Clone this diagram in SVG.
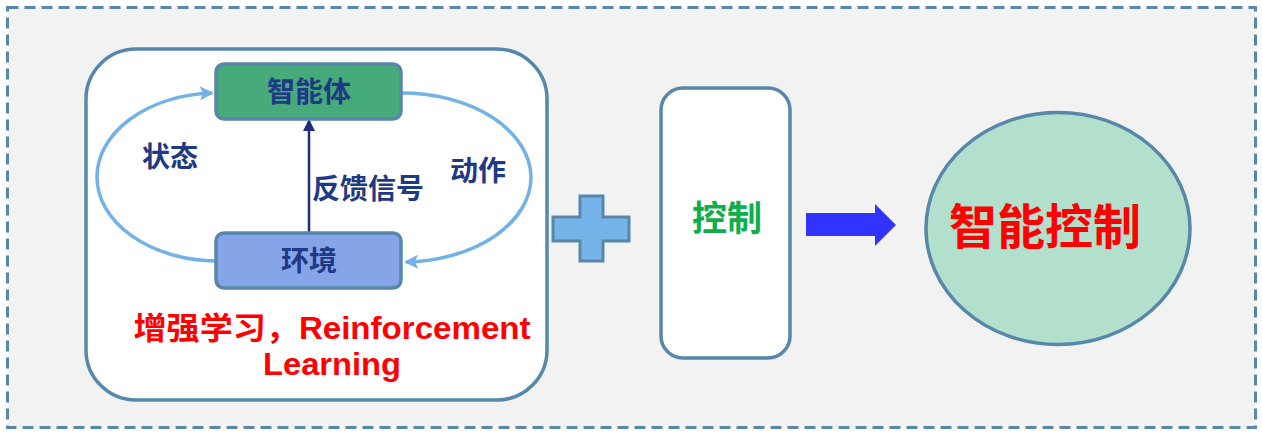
<svg xmlns="http://www.w3.org/2000/svg" width="1262" height="435" viewBox="0 0 1262 435">
<defs>
<style>
.cjk{font-family:"Noto Sans CJK SC","Liberation Sans",sans-serif;font-weight:bold;text-anchor:middle}
.red{font-family:"Liberation Sans","Noto Sans CJK SC",sans-serif;font-weight:bold;text-anchor:middle;fill:#ff0000}
.navy{fill:#1f3a85}
.box{stroke:#5788ab;stroke-width:3.5}
.loop{fill:none;stroke:#72b2e6;stroke-width:3.5}
</style>
<marker id="lh" viewBox="0 0 14 14" refX="12" refY="7" markerWidth="14" markerHeight="14" markerUnits="userSpaceOnUse" orient="auto">
<path d="M0,0 L14,7 L0,14 L3,7 Z" fill="#72b2e6"/>
</marker>
<marker id="nh" viewBox="0 0 12 12" refX="10" refY="6" markerWidth="12" markerHeight="12" markerUnits="userSpaceOnUse" orient="auto">
<path d="M0,0 L12,6 L0,12 Z" fill="#1f2d7a"/>
</marker>
</defs>
<rect x="0" y="0" width="1262" height="435" fill="#ffffff"/>
<rect id="frame" x="7.5" y="7.5" width="1248" height="420" fill="#f2f2f2" stroke="#5788ab" stroke-width="3" stroke-dasharray="11,6"/>
<g id="rl-panel">
<rect x="86" y="49" width="461" height="351" rx="50" fill="#ffffff" class="box"/>
</g>
<g id="connectors">
<path class="loop" d="M216,261 A121,84 0 0 1 97,177 A121,84 0 0 1 212,93" marker-end="url(#lh)"/>
<path class="loop" d="M402,93 A129,85 0 0 1 531,177 A129,85 0 0 1 406,262" marker-end="url(#lh)"/>
<line x1="309" y1="232" x2="309" y2="121" stroke="#1f2d7a" stroke-width="2.5" marker-end="url(#nh)"/>
</g>
<g id="agent">
<rect x="216" y="64" width="185" height="55" rx="8" fill="#46aa7a" class="box"/>
<text x="309" y="102" class="cjk navy" font-size="28">智能体</text>
</g>
<g id="env">
<rect x="216" y="233" width="185" height="55" rx="8" fill="#86a4e8" class="box"/>
<text x="309" y="271" class="cjk navy" font-size="28">环境</text>
</g>
<text x="170" y="167" class="cjk navy" font-size="28">状态</text>
<text x="478" y="181" class="cjk navy" font-size="28">动作</text>
<text x="368" y="199" class="cjk navy" font-size="28">反馈信号</text>
<text class="red" font-size="31"><tspan x="332" y="339" textLength="397" lengthAdjust="spacingAndGlyphs">增强学习，Reinforcement</tspan><tspan x="332" y="375" textLength="138" lengthAdjust="spacingAndGlyphs">Learning</tspan></text>
<g id="plus">
<path d="M580,196 H603 V217 H629 V241 H603 V261 H580 V241 H553 V217 H580 Z" fill="#74b4e8" stroke="#5788ab" stroke-width="3"/>
</g>
<g id="control">
<rect x="661" y="88" width="129" height="270" rx="22" fill="#ffffff" class="box"/>
<text x="727" y="231" class="cjk" font-size="35" fill="#0fae4a">控制</text>
</g>
<g id="bigarrow">
<path d="M806,213 H875 V204 L896,225 L875,246 V236 H806 Z" fill="#3333ff"/>
</g>
<g id="intelligent-control">
<ellipse cx="1058" cy="228.5" rx="132" ry="116" fill="#b3e0cc" class="box"/>
<text x="1045" y="244" class="cjk" font-size="48" fill="#ff0000">智能控制</text>
</g>
</svg>
